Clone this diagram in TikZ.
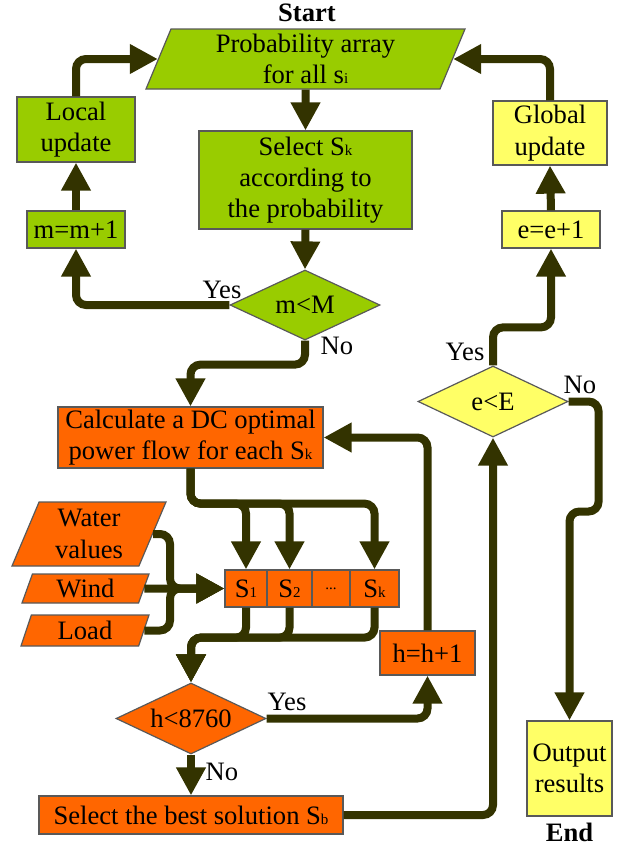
\documentclass[tikz,border=0pt]{standalone}
\usepackage{fontspec}
\setmainfont{Liberation Serif}
\usetikzlibrary{arrows.meta}
\usetikzlibrary{shapes.geometric}
\definecolor{leaf}{HTML}{99CC00}
\definecolor{tangerine}{HTML}{FF6600}
\definecolor{lemon}{HTML}{FFFF66}
\definecolor{pipe}{HTML}{333300}
\newcommand{\lowsub}[1]{{\fontsize{7.5}{8}\selectfont #1}}
\tikzset{
    block/.style={draw=black!65, line width=0.6pt, inner sep=0pt, align=center, font=\fontsize{13.3}{15.6}\selectfont},
    greenbox/.style={block, fill=leaf},
    orangebox/.style={block, fill=tangerine},
    yellowbox/.style={block, fill=lemon},
    slanted/.style={block, trapezium, trapezium stretches body, trapezium left angle=#1, trapezium right angle=180-#1},
    decision/.style={block, diamond, aspect=2},
    lbl/.style={inner sep=0pt, font=\fontsize{13.3}{15.6}\selectfont},
    endlbl/.style={inner sep=0pt, font=\fontsize{13.3}{15.6}\selectfont\bfseries},
    flow/.style={draw=pipe, line width=4pt, rounded corners=5pt, -{Triangle[length=14pt,width=14pt]}}
}
\begin{document}
\begin{tikzpicture}[x=0.5pt, y=-0.5pt]
    \useasboundingbox (0, 0) rectangle (625, 847);
    \node[endlbl] (start) at (307, 13) {Start};
    \node[slanted=63.4, fill=leaf, minimum width=159.5pt, minimum height=30pt] (prob) at (305.5, 59) {Probability array\\for all s\lowsub{i}};
    \node[greenbox, minimum width=106.5pt, minimum height=49pt] (select) at (305.5, 180) {Select S\lowsub{k}\\according to\\the probability};
    \node[decision, fill=leaf, minimum width=75pt, minimum height=35pt] (mM) at (305, 305) {m<M};
    \node[greenbox, minimum width=49pt, minimum height=18.5pt] (mm) at (76, 229.5) {m=m+1};
    \node[greenbox, minimum width=59pt, minimum height=32.5pt] (local) at (76, 129.5) {Local\\update};
    \node[yellowbox, minimum width=57pt, minimum height=32pt] (glob) at (550, 133) {Global\\update};
    \node[yellowbox, minimum width=49pt, minimum height=18.5pt] (ee) at (551, 229.5) {e=e+1};
    \node[decision, fill=lemon, minimum width=75pt, minimum height=35.5pt] (eE) at (493, 401.5) {e<E};
    \node[orangebox, minimum width=132.5pt, minimum height=30.5pt] (calc) at (190.5, 437.5) {Calculate a DC optimal\\power flow for each S\lowsub{k}};
    \node[orangebox, minimum width=21pt, minimum height=18.5pt] (s1) at (246, 588.5) {S\lowsub{1}};
    \node[orangebox, minimum width=22.5pt, minimum height=18.5pt] (s2) at (289.5, 588.5) {S\lowsub{2}};
    \node[orangebox, minimum width=19pt, minimum height=18.5pt] (sdots) at (331, 588.5) {\lowsub{...}};
    \node[orangebox, minimum width=24.5pt, minimum height=18.5pt] (sk) at (374.5, 588.5) {S\lowsub{k}};
    \node[slanted=61, fill=tangerine, minimum width=77pt, minimum height=32pt] (water) at (89, 534) {Water\\values};
    \node[slanted=61, fill=tangerine, minimum width=63.5pt, minimum height=14.5pt] (wind) at (85.5, 588.5) {Wind};
    \node[slanted=61, fill=tangerine, minimum width=64pt, minimum height=15.5pt] (load) at (85, 630.5) {Load};
    \coordinate (join) at (170, 588.5);
    \node[orangebox, minimum width=47.5pt, minimum height=22pt] (hh) at (427.5, 653) {h=h+1};
    \node[decision, fill=tangerine, minimum width=75pt, minimum height=35.5pt] (hdia) at (191, 718.5) {h<8760};
    \node[orangebox, minimum width=152pt, minimum height=19pt] (best) at (191, 815) {Select the best solution S\lowsub{b}};
    \node[yellowbox, minimum width=42.5pt, minimum height=47.5pt] (out) at (569.5, 768.5) {Output\\results};
    \node[endlbl] (finish) at (569.5, 832) {End};
    \node[lbl] (yesm) at (222, 290) {Yes};
    \node[lbl] (nom) at (337, 346) {No};
    \node[lbl] (yese) at (465, 352) {Yes};
    \node[lbl] (noe) at (580, 385) {No};
    \node[lbl] (yesh) at (287, 702) {Yes};
    \node[lbl] (noh) at (222, 772) {No};
    \draw[flow] (prob.south) -- (select.north);
    \draw[flow] (select.south) -- (mM.north);
    \draw[flow] (mM.west) -| (mm.south);
    \draw[flow] (mm.north) -- (local.south);
    \draw[flow] (local.north) |- (prob.west);
    \draw[flow] (mM.south) -- ++(0, 24) -| (calc.north);
    \draw[flow] (calc.south) -- ++(0, 35) -| (s1.north);
    \draw[flow] (calc.south) -- ++(0, 35) -| (s2.north);
    \draw[flow] (calc.south) -- ++(0, 35) -| (sk.north);
    \draw[flow] (water.east) -| (join) -- (s1.west);
    \draw[flow] (wind.east) -- (s1.west);
    \draw[flow] (load.east) -| (join) -- (s1.west);
    \draw[flow] (s1.south) -- ++(0, 30) -| (hdia.north);
    \draw[flow] (s2.south) -- ++(0, 30) -| (hdia.north);
    \draw[flow] (sk.south) -- ++(0, 30) -| (hdia.north);
    \draw[flow] (hdia.east) -| (hh.south);
    \draw[flow] (hh.north) |- (calc.east);
    \draw[flow] (hdia.south) -- (best.north);
    \draw[flow] (best.east) -| (eE.south);
    \draw[flow] (eE.north) -- ++(0, -38) -| (ee.south);
    \draw[flow] (ee.north) -- (glob.south);
    \draw[flow] (glob.north) |- (prob.east);
    \draw[flow] (eE.east) -- ++(30, 0) -- ++(0, 110) -| (out.north);
\end{tikzpicture}
\end{document}
